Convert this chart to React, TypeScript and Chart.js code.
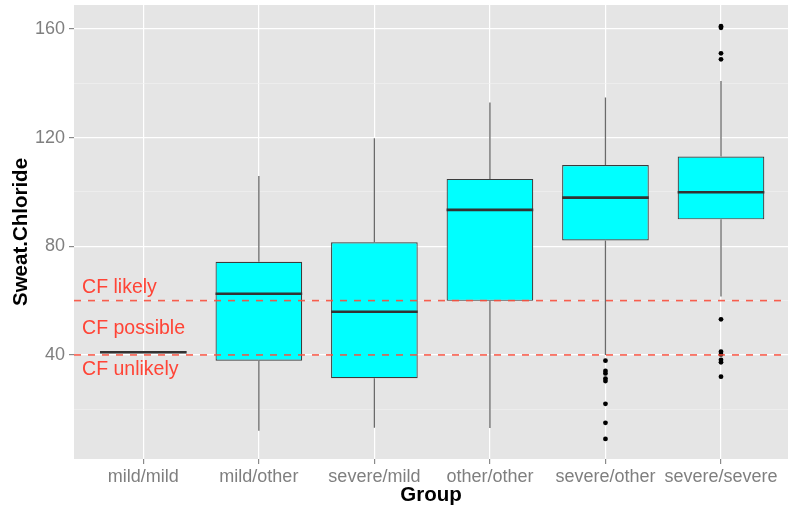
import React, { useEffect, useRef } from 'react';
import { Chart, registerables } from 'chart.js';
Chart.register(...registerables);

const categories = ['mild/mild', 'mild/other', 'severe/mild', 'other/other', 'severe/other', 'severe/severe'];
const whiskerLow = [41, 12.1, 13.2, 13.1, 40, 61.5];
const q1 = [41, 37.9, 31.4, 59.9, 82.1, 89.9];
const median = [41, 62.5, 55.9, 93.4, 97.9, 99.9];
const q3 = [41, 74.3, 81.5, 104.8, 109.9, 113.0];
const whiskerHigh = [41, 105.9, 119.8, 132.9, 134.8, 140.8];
const outlierGroup = [4, 4, 4, 4, 4, 4, 4, 4, 5, 5, 5, 5, 5, 5, 5, 5, 5, 5];
const outlierValue = [37.9, 34.1, 33.2, 31.3, 30.4, 22, 15, 9.1, 161.0, 160.4, 151.0, 148.8, 53.1, 41.2, 40.2, 38.2, 37.3, 32];
const yTickValues = [20, 40, 60, 80, 100, 120, 140, 160];
const thresholds = [40, 60];
const zoneLabels = ['CF likely', 'CF possible', 'CF unlikely'];
const zoneLabelY = [64.7, 49.7, 34.6];
const zoneLabelX = -0.53;

const FONT = "'Liberation Sans', Arial, Helvetica, sans-serif";

export default function App() {
  const ref = useRef<HTMLCanvasElement>(null);
  useEffect(() => {
    document.body.style.margin = '0';
    const canvas = ref.current!;
    const boxPlugin = {
      id: 'boxParts',
      beforeDraw(chart: any) {
        const { ctx, chartArea: a } = chart;
        ctx.save();
        ctx.fillStyle = '#E5E5E5';
        ctx.fillRect(a.left, a.top, a.right - a.left, a.bottom - a.top);
        ctx.restore();
      },
      beforeDatasetsDraw(chart: any) {
        const { ctx } = chart;
        const xs = chart.scales.x;
        const ys = chart.scales.y;
        ctx.save();
        ctx.strokeStyle = '#6a6a6a';
        ctx.lineWidth = 1.3;
        categories.forEach((_, i) => {
          const x = xs.getPixelForValue(i);
          ctx.beginPath();
          ctx.moveTo(x, ys.getPixelForValue(whiskerHigh[i]));
          ctx.lineTo(x, ys.getPixelForValue(q3[i]));
          ctx.moveTo(x, ys.getPixelForValue(q1[i]));
          ctx.lineTo(x, ys.getPixelForValue(whiskerLow[i]));
          ctx.stroke();
        });
        ctx.restore();
      },
      afterDatasetsDraw(chart: any) {
        const { ctx, chartArea: a } = chart;
        const xs = chart.scales.x;
        const ys = chart.scales.y;
        const bars = chart.getDatasetMeta(0).data;
        ctx.save();
        ctx.strokeStyle = '#333333';
        ctx.lineWidth = 2.6;
        categories.forEach((_, i) => {
          const b = bars[i];
          const y = ys.getPixelForValue(median[i]);
          ctx.beginPath();
          ctx.moveTo(b.x - b.width / 2, y);
          ctx.lineTo(b.x + b.width / 2, y);
          ctx.stroke();
        });
        ctx.strokeStyle = 'rgba(248, 78, 60, 0.9)';
        ctx.lineWidth = 1.6;
        ctx.setLineDash([7, 7]);
        thresholds.forEach((t) => {
          const y = ys.getPixelForValue(t);
          ctx.beginPath();
          ctx.moveTo(a.left, y);
          ctx.lineTo(a.right, y);
          ctx.stroke();
        });
        ctx.setLineDash([]);
        ctx.fillStyle = '#FF4436';
        ctx.font = `19.5px ${FONT}`;
        ctx.textAlign = 'left';
        ctx.textBaseline = 'middle';
        zoneLabels.forEach((t, i) => {
          ctx.fillText(t, xs.getPixelForValue(zoneLabelX), ys.getPixelForValue(zoneLabelY[i]));
        });
        ctx.restore();
      },
    };

    const chart = new Chart(canvas, {
      type: 'bar',
      data: {
        datasets: [
          {
            type: 'bar',
            data: categories.map((_, i) => ({ x: i, y: [q1[i], q3[i]] })) as any,
            backgroundColor: '#00FFFF',
            borderColor: '#3c3c3c',
            borderWidth: 1.2,
            borderSkipped: false,
            barPercentage: 0.75,
            categoryPercentage: 1,
            grouped: false,
          } as any,
          {
            type: 'scatter',
            data: outlierValue.map((v, i) => ({ x: outlierGroup[i], y: v })),
            pointRadius: 2.4,
            pointHoverRadius: 2.4,
            backgroundColor: '#000000',
            borderWidth: 0,
          } as any,
        ],
      },
      options: {
        animation: false,
        responsive: false,
        layout: { autoPadding: false, padding: { top: 5, left: 0, right: 0, bottom: 0 } },
        plugins: { legend: { display: false }, tooltip: { enabled: false } },
        scales: {
          x: {
            type: 'linear',
            offset: false,
            min: -0.6,
            max: 5.58,
            afterBuildTicks: (s: any) => {
              s.ticks = categories.map((_, i) => ({ value: i }));
            },
            afterFit: (s: any) => {
              s.height = 53;
              s.paddingLeft = 0;
              s.paddingRight = 0;
            },
            ticks: {
              callback: (v: any) => categories[v] ?? '',
              color: '#7F7F7F',
              font: { family: FONT, size: 18 },
              padding: 2,
              maxRotation: 0,
              autoSkip: false,
            },
            grid: { offset: false, color: '#FFFFFF', lineWidth: 1.2, tickColor: '#8A8A8A', tickLength: 5 },
            border: { display: false },
            title: {
              display: true,
              text: 'Group',
              color: '#000000',
              font: { family: FONT, size: 20.5, weight: 'bold' },
              padding: { top: 0, bottom: 4 },
            },
          },
          y: {
            type: 'linear',
            min: 1.7,
            max: 168.8,
            afterBuildTicks: (s: any) => {
              s.ticks = yTickValues.map((v) => ({ value: v }));
            },
            afterFit: (s: any) => {
              s.width = 74;
              s.paddingTop = 0;
              s.paddingBottom = 0;
            },
            ticks: {
              callback: (v: any) => (v % 40 === 0 ? String(v) : ''),
              color: '#7F7F7F',
              font: { family: FONT, size: 18 },
              padding: 4,
            },
            grid: {
              color: (c: any) => (c.tick && c.tick.value % 40 === 0 ? '#FFFFFF' : '#F2F2F2'),
              lineWidth: (c: any) => (c.tick && c.tick.value % 40 === 0 ? 1.2 : 0.6),
              tickColor: (c: any) => (c.tick && c.tick.value % 40 === 0 ? '#8A8A8A' : 'rgba(0,0,0,0)'),
              tickLength: 5,
            },
            border: { display: false },
            title: {
              display: true,
              text: 'Sweat.Chloride',
              color: '#000000',
              font: { family: FONT, size: 20.5, weight: 'bold' },
              padding: { top: 9, bottom: 0 },
            },
          },
        },
      } as any,
      plugins: [boxPlugin],
    });
    return () => chart.destroy();
  }, []);
  return <canvas ref={ref} width={788} height={512} style={{ display: 'block' }} />;
}
